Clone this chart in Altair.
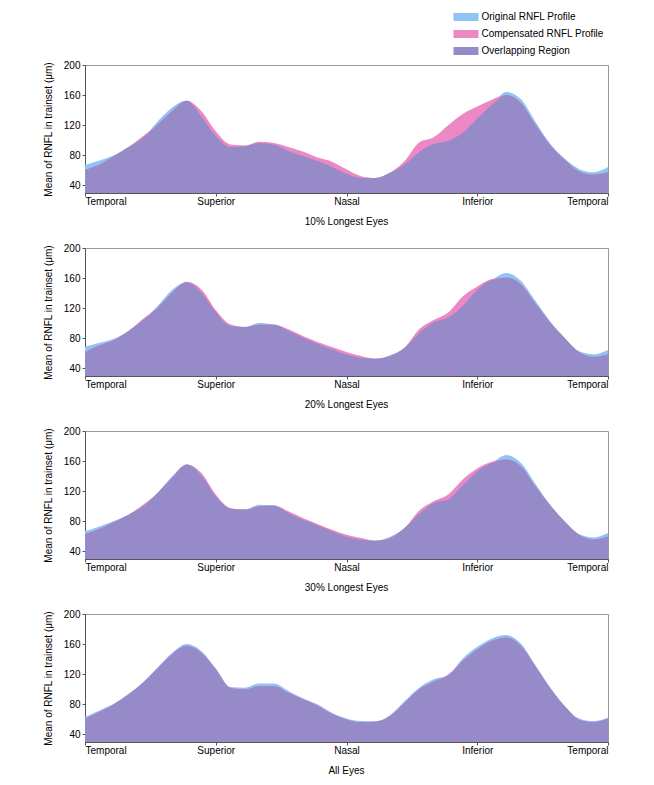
import altair as alt
import pandas as pd

# Angular position around the optic disc (degrees), Temporal -> Superior -> Nasal -> Inferior -> Temporal
deg = list(range(0, 361, 10))

p1_orig = [67, 73, 80, 91, 103.5, 125, 143.5, 152.5, 132, 105.6, 91, 92, 96.5, 94.5, 85.7, 79, 72.4, 64.5, 55.6,
           50, 50, 56.9, 68, 84, 95, 99, 110, 129, 147, 164, 154.7, 125, 96, 76, 62, 57.5, 64.5]
p1_comp = [61, 68, 79, 91, 105.7, 121, 139, 152.5, 139, 112, 94.5, 93, 98, 96.5, 91, 85, 77, 71.6, 61.5,
           52.4, 50, 56.9, 72.4, 97, 104, 120, 135, 145, 154, 160, 150, 121, 94, 74.5, 59, 54.7, 57.5]

p2_orig = [68.9, 74, 79.5, 89.8, 104.4, 123, 144.4, 154.5, 140.9, 115, 96.4, 95, 100.4, 98, 89.8, 80.9, 72.9, 65.3, 58.7,
           54.2, 52.9, 57.5, 67.5, 86.7, 100.9, 107.6, 123.1, 144.4, 157.4, 166.7, 156.5, 129.8, 103.1, 80.9, 63.1, 58.7, 64.5]
p2_comp = [61.8, 70.7, 77.8, 89.8, 106, 120.8, 140.9, 155.1, 145.3, 117.7, 98.6, 95, 98, 98.5, 92, 83.1, 75.1, 68.4, 62,
           56.4, 52.9, 56.4, 67.5, 92, 104.4, 114.3, 135.6, 148.9, 158.7, 160.9, 152, 126.7, 101.8, 80.9, 61.8, 55.6, 58.7]

p3_orig = [66.7, 73.3, 80.5, 88.9, 100, 117.8, 140, 155.6, 141.3, 113.3, 96.9, 95.6, 102.2, 100.9, 91.1, 82.2, 74.7, 66.7, 59.6,
           55.6, 54.2, 59.5, 71.1, 89.8, 104.4, 108.9, 128, 146.7, 157.3, 168, 157.8, 129.8, 102.2, 80, 63.1, 58.7, 64.4]
p3_comp = [63.1, 70.2, 79.1, 88.9, 102.2, 117.8, 137.8, 155.6, 144.4, 115.6, 97.8, 95.6, 100, 100.9, 93.3, 84.4, 76.4, 68.9, 62.2,
           57.8, 54.2, 57.8, 71.1, 94.2, 106.7, 115.6, 135.6, 150.2, 159.1, 162.2, 153.3, 126.7, 102.2, 80, 62.2, 56, 60]

p4_orig = [63.1, 72, 81, 94, 109.5, 129, 148.4, 160, 151, 128, 103, 102.2, 107.6, 107.6, 97.8, 88, 80, 68.9, 61.3,
           57.8, 57.5, 65.8, 84.4, 102.2, 113.3, 118.5, 140.9, 156.4, 167.6, 172, 160.9, 132, 103, 78.5, 61.3, 57.8, 62.2]
p4_comp = [61.3, 70.2, 80, 93.3, 108.9, 128, 146.7, 157.8, 148.9, 126.7, 102.2, 100, 104.4, 104.4, 95.6, 86.7, 78.5, 67.6, 60,
           56.4, 56.9, 64.4, 82.2, 100, 110.2, 119.5, 137.8, 153.3, 164.4, 168.9, 157.8, 131.1, 102.2, 77.8, 60, 56.4, 61.3]

panel_titles = ["10% Longest Eyes", "20% Longest Eyes", "30% Longest Eyes", "All Eyes"]
panel_orig = [p1_orig, p2_orig, p3_orig, p4_orig]
panel_comp = [p1_comp, p2_comp, p3_comp, p4_comp]

series_names = ["Original RNFL Profile", "Compensated RNFL Profile", "Overlapping Region"]
series_colors = ["#90c4f5", "#ec88c4", "#978ac8"]

tick_values = [0, 90, 180, 270, 360]
tick_labels = ["Temporal", "Superior", "Nasal", "Inferior", "Temporal"]
label_expr = ("datum.value == 0 ? 'Temporal' : datum.value == 90 ? 'Superior' : "
              "datum.value == 180 ? 'Nasal' : datum.value == 270 ? 'Inferior' : 'Temporal'")

W, H = 523, 128
FONT = "Liberation Sans"


def make_panel(title, orig, comp, show_legend):
    frames = [
        pd.DataFrame({"deg": deg, "value": orig, "series": series_names[0]}),
        pd.DataFrame({"deg": deg, "value": comp, "series": series_names[1]}),
        pd.DataFrame({"deg": deg, "value": [min(o, c) for o, c in zip(orig, comp)], "series": series_names[2]}),
    ]
    if show_legend:
        legend = alt.Legend(
            title=None, orient="none", legendX=376, legendY=-53,
            symbolType="M-2.5,-0.8H2.5V0.8H-2.5Z", symbolSize=100, symbolStrokeWidth=0,
            symbolOpacity=1, labelFont=FONT, labelFontSize=10,
            labelColor="black", rowPadding=7, labelOffset=10.5,
        )
    else:
        legend = None
    layers = []
    for df in frames:
        layers.append(
            alt.Chart(df).mark_area(interpolate="monotone", opacity=1).encode(
                x=alt.X("deg:Q", scale=alt.Scale(domain=[0, 360], nice=False),
                        axis=alt.Axis(title=None, values=tick_values, labelExpr=label_expr,
                                      labelFlush=True, tickSize=3, labelPadding=0)),
                y=alt.Y("value:Q", stack=None, scale=alt.Scale(domain=[30, 200], nice=False),
                        axis=alt.Axis(title="Mean of RNFL in trainset (μm)", values=[40, 80, 120, 160, 200],
                                      tickSize=3, labelPadding=2, titlePadding=10)),
                color=alt.Color("series:N", scale=alt.Scale(domain=series_names, range=series_colors),
                                legend=legend),
            )
        )
    return alt.layer(*layers).properties(
        width=W, height=H,
        title=alt.TitleParams(title, orient="bottom", frame="group", offset=11,
                              font=FONT, fontSize=10, fontWeight="normal", color="black"),
    )


panels = [make_panel(t, o, c, i == 0) for i, (t, o, c) in enumerate(zip(panel_titles, panel_orig, panel_comp))]

chart = alt.vconcat(*panels, spacing=14).resolve_scale(color="independent").properties(
    padding={"left": 34, "top": 3, "right": 5, "bottom": 5}
).configure_axis(
    labelFont=FONT, titleFont=FONT, labelFontSize=10, titleFontSize=10,
    titleFontWeight="normal", labelColor="black", titleColor="black",
    domainColor="#555555", tickColor="#555555", grid=False,
).configure_view(stroke="#999999")

chart.save("out.html", embed_options={"renderer": "svg", "actions": False})
